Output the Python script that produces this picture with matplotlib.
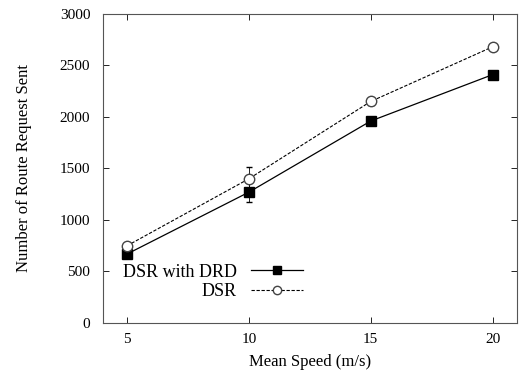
import matplotlib
matplotlib.use("Agg")
import matplotlib.pyplot as plt
from matplotlib.lines import Line2D

plt.rcParams['font.family'] = ['Liberation Serif', 'DejaVu Serif']

speed = [5, 10, 15, 20]
drd = [670, 1270, 1960, 2410]
drd_err = [30, 100, 25, 30]
dsr = [750, 1400, 2150, 2680]
dsr_err = [30, 110, 30, 25]

fig, ax = plt.subplots(figsize=(5.19, 3.85), dpi=100)
fig.subplots_adjust(left=0.198, right=0.996, top=0.964, bottom=0.161)

ax.errorbar(speed, drd, yerr=drd_err, color='black', lw=0.9, marker='s', ms=7.5,
            mfc='black', mec='black', capsize=2, elinewidth=0.6)
ax.errorbar(speed, dsr, yerr=dsr_err, color='black', lw=0.8, ls=(0, (3, 1.5)), marker='o', ms=7.5,
            mfc='white', mec='#444444', capsize=2, elinewidth=0.6)

ax.set_xlim(4, 21)
ax.set_ylim(0, 3000)
ax.set_xticks(speed)
ax.set_yticks(range(0, 3001, 500))
ax.tick_params(direction='in', length=4, width=0.6, labelsize=11, top=True, right=True)
ax.tick_params(axis='y', pad=9)
ax.tick_params(axis='x', pad=7)
for s in ax.spines.values():
    s.set_linewidth(0.8)
    s.set_color('#555555')

ax.set_xlabel('Mean Speed (m/s)', fontsize=12, labelpad=6)
ax.set_ylabel('Number of Route Request Sent', fontsize=12, labelpad=20)

handles = [
    Line2D([], [], color='black', lw=0.9, marker='s', ms=6, mfc='black', mec='black'),
    Line2D([], [], color='black', lw=0.8, ls=(0, (3, 1.5)), marker='o', ms=6, mfc='white', mec='#444444'),
]
leg = ax.legend(handles, ['DSR with DRD', 'DSR'], loc='upper left', bbox_to_anchor=(0.048, 0.192),
                frameon=False, markerfirst=False, fontsize=13, handlelength=2.9,
                handletextpad=0.8, labelspacing=0.15, borderpad=0, borderaxespad=0)
for t in leg.get_texts():
    t.set_ha('right')
leg._legend_box.align = 'right'

plt.savefig('out.png', dpi=100)
